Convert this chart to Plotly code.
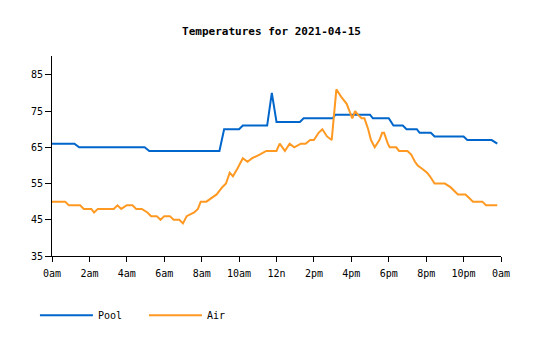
import plotly.graph_objects as go

# ---- data (hours since midnight, degrees F) ----
pool_hours = [0, 1.2, 1.45, 4.95, 5.2, 8.95, 9.2, 10.0, 10.2, 11.5, 11.75, 12.0,
              13.25, 13.45, 15.0, 15.15, 17.0, 17.15, 18.0, 18.25, 18.75, 18.95,
              19.5, 19.65, 20.25, 20.45, 22.0, 22.2, 23.5, 23.8]
pool_temps = [66, 66, 65, 65, 64, 64, 70, 70, 71, 71, 80, 72,
              72, 73, 73, 74, 74, 73, 73, 71, 71, 70,
              70, 69, 69, 68, 68, 67, 67, 66]

air_hours = [0, 0.7, 0.9, 1.5, 1.7, 2.1, 2.25, 2.45, 3.3, 3.5, 3.7, 4.0, 4.3, 4.5,
             4.8, 5.1, 5.3, 5.6, 5.8, 6.0, 6.3, 6.5, 6.8, 7.0, 7.2, 7.6, 7.8, 7.95,
             8.25, 8.5, 8.8, 9.1, 9.3, 9.5, 9.67, 9.9, 10.2, 10.45, 10.7, 11.1, 11.45,
             12.0, 12.17, 12.45, 12.7, 12.95, 13.3, 13.55, 13.8, 14.0, 14.25, 14.45,
             14.7, 14.95, 15.05, 15.2, 15.45, 15.75, 15.9, 16.05, 16.2, 16.35, 16.55,
             16.7, 16.9, 17.05, 17.25, 17.5, 17.65, 17.75, 17.95, 18.05, 18.4, 18.55,
             19.0, 19.2, 19.4, 19.55, 19.8, 20.05, 20.2, 20.45, 21.0, 21.3, 21.7, 22.1,
             22.3, 22.5, 23.0, 23.2, 23.8]
air_temps = [50, 50, 49, 49, 48, 48, 47, 48, 48, 49, 48, 49, 49, 48,
             48, 47, 46, 46, 45, 46, 46, 45, 45, 44, 46, 47, 48, 50,
             50, 51, 52, 54, 55, 58, 57, 59, 62, 61, 62, 63, 64,
             64, 66, 64, 66, 65, 66, 66, 67, 67, 69, 70,
             68, 67, 73, 81, 79, 77, 75, 73, 75, 74, 73,
             73, 70, 67, 65, 67, 69, 69, 66, 65, 65, 64,
             64, 63, 61, 60, 59, 58, 57, 55, 55, 54, 52, 52,
             51, 50, 50, 49, 49]

x_tick_vals = [0, 2, 4, 6, 8, 10, 12, 14, 16, 18, 20, 22, 24]
x_tick_text = ["0am", "2am", "4am", "6am", "8am", "10am", "12n", "2pm", "4pm",
               "6pm", "8pm", "10pm", "0am"]
y_tick_vals = [35, 45, 55, 65, 75, 85]

FONT = "DejaVu Sans Mono"

fig = go.Figure()
fig.add_trace(go.Scatter(x=pool_hours, y=pool_temps, mode="lines", name="Pool",
                         line=dict(color="#0066cc", width=2)))
fig.add_trace(go.Scatter(x=air_hours, y=air_temps, mode="lines", name="Air",
                         line=dict(color="#ff9922", width=2)))

fig.update_layout(
    width=535, height=340,
    margin=dict(l=52, r=34, t=56, b=83),
    paper_bgcolor="white", plot_bgcolor="white",
    font=dict(family=FONT, size=10, color="black"),
    title=dict(text="<b>Temperatures for 2021-04-15</b>", x=0.5075, xanchor="center",
               y=1 - 31 / 340, yanchor="middle", font=dict(family=FONT, size=11)),
    showlegend=True,
    legend=dict(orientation="h", x=-0.038, xanchor="left", y=-0.29, yanchor="middle",
                itemwidth=53, entrywidth=41, entrywidthmode="pixels",
                font=dict(family=FONT, size=10)),
    xaxis=dict(range=[0, 24], tickvals=x_tick_vals, ticktext=x_tick_text,
               showgrid=False, zeroline=False, showline=True, linecolor="black",
               linewidth=1, ticks="outside", ticklen=5, tickcolor="black",
               ticklabelstandoff=3),
    yaxis=dict(range=[35, 90.2], tickvals=y_tick_vals,
               showgrid=False, zeroline=False, showline=True, linecolor="black",
               linewidth=1, ticks="outside", ticklen=6, tickcolor="black"),
)

fig.write_html("out.html")
